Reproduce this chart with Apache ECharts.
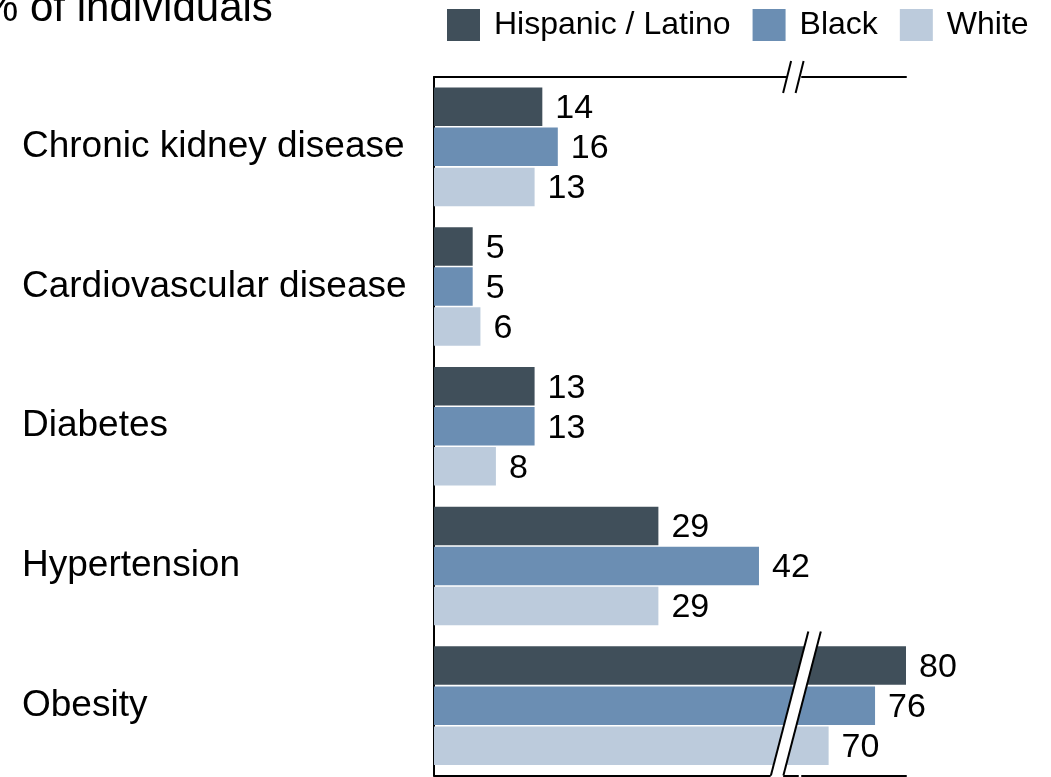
<!DOCTYPE html>
<html>
<head>
<meta charset="utf-8">
<script src="https://cdn.jsdelivr.net/npm/echarts@6/dist/echarts.min.js"></script>
<style>
  html, body { margin: 0; padding: 0; background: #fff; }
  #chart { width: 1051px; height: 777px; }
</style>
</head>
<body>
<div id="chart"></div>
<script>
// Health conditions by group, share of individuals (%)
const categories = [
  'Chronic kidney disease',
  'Cardiovascular disease',
  'Diabetes',
  'Hypertension',
  'Obesity'
];
const seriesNames = ['Hispanic / Latino', 'Black', 'White'];
const hispanicLatino = [14, 5, 13, 29, 80];
const black = [16, 5, 13, 42, 76];
const white = [13, 6, 8, 29, 70];
const titleText = '% of individuals';

// Value axis is collapsed between these values
const axisBreak = { start: 47, end: 66.5, gap: 0.5 };

const palette = ['#404f5a', '#6b8eb3', '#bccbdc'];
const FONT = '"Liberation Sans", Arial, Helvetica, sans-serif';
const GRID = { left: 434, top: 77, right: 145, bottom: 1.5 };

const chart = echarts.init(document.getElementById('chart'), null, { renderer: 'canvas' });

const valueAxisBase = {
  type: 'value',
  min: 0,
  max: 80,
  breaks: [Object.assign({}, axisBreak)],
  breakArea: { show: false, expandOnClick: false },
  splitLine: { show: false },
  axisTick: { show: false },
  axisLabel: { show: false },
  axisLine: { show: true, lineStyle: { color: '#000', width: 2 } }
};

const seriesData = [hispanicLatino, black, white];

chart.setOption({
  animation: false,
  backgroundColor: '#fff',
  title: {
    text: titleText,
    left: -19,
    top: -12,
    padding: 0,
    textStyle: { fontFamily: FONT, fontSize: 42, fontWeight: 'normal', color: '#000' }
  },
  legend: {
    data: seriesNames,
    left: 447,
    top: 9,
    padding: 0,
    itemWidth: 33,
    itemHeight: 32,
    itemGap: 22,
    itemTextGap: 5,
    icon: 'rect',
    textStyle: { fontFamily: FONT, fontSize: 32, color: '#000', padding: [0, 0, 0, 9] }
  },
  grid: Object.assign({ containLabel: false }, GRID),
  xAxis: [
    Object.assign({}, valueAxisBase, { position: 'bottom' }),
    Object.assign({}, valueAxisBase, { position: 'top' })
  ],
  yAxis: {
    type: 'category',
    data: categories,
    inverse: true,
    axisTick: { show: false },
    axisLine: { show: true, lineStyle: { color: '#000', width: 2 } },
    axisLabel: {
      align: 'left',
      margin: 412,
      padding: [9, 0, 0, 0],
      fontFamily: FONT,
      fontSize: 37,
      color: '#000'
    }
  },
  series: seriesNames.map((name, i) => ({
    name: name,
    type: 'bar',
    xAxisIndex: 0,
    data: seriesData[i],
    barWidth: 38.5,
    barGap: '4%',
    itemStyle: { color: palette[i] },
    label: {
      show: true,
      position: 'right',
      distance: 13,
      offset: [0, 2],
      fontFamily: FONT,
      fontSize: 34,
      color: '#000'
    }
  }))
});

// Slanted break marks across the top rule and through the bars
function drawBreakMarks() {
  const xa = chart.convertToPixel({ xAxisIndex: 0 }, axisBreak.start);
  const xb = chart.convertToPixel({ xAxisIndex: 0 }, axisBreak.end);
  const bp = (xa + xb) / 2;
  const T = GRID.top;
  const B = chart.getHeight() - GRID.bottom;

  const line = (x1, y1, x2, y2) => ({
    type: 'line', z: 101, silent: true,
    shape: { x1, y1, x2, y2 },
    style: { stroke: '#000', lineWidth: 2 }
  });

  // top rule: two short slashes with a white gap between them
  const s1 = bp - 12.5, s2 = bp, slopeTop = -0.25, hTop = 16;
  const topGap = {
    type: 'polygon', z: 100, silent: true,
    shape: { points: [
      [s1 + 3 * 0.25, T - 3], [s2 + 3 * 0.25, T - 3],
      [s2 - 3 * 0.25, T + 3], [s1 - 3 * 0.25, T + 3]
    ] },
    style: { fill: '#fff' }
  };
  const topSlash1 = line(s1 - hTop * slopeTop, T - hTop, s1 + hTop * slopeTop, T + hTop);
  const topSlash2 = line(s2 - hTop * slopeTop, T - hTop, s2 + hTop * slopeTop, T + hTop);

  // bottom: white strip cutting through the longest bars and bottom rule
  const h = 72, ym = B - h, slope = -0.26;
  const l = bp - 10, r = bp + 2.5;
  const strip = {
    type: 'polygon', z: 100, silent: true,
    shape: { points: [
      [l - h * slope, ym - h], [r - h * slope, ym - h],
      [r + (h + 2) * slope, ym + h + 2], [l + (h + 2) * slope, ym + h + 2]
    ] },
    style: { fill: '#fff' }
  };
  const stripL = line(l - h * slope, ym - h, l + h * slope, ym + h);
  const stripR = line(r - h * slope, ym - h, r + h * slope, ym + h);

  chart.setOption({ graphic: [topGap, topSlash1, topSlash2, strip, stripL, stripR] });
}
drawBreakMarks();
</script>
</body>
</html>
